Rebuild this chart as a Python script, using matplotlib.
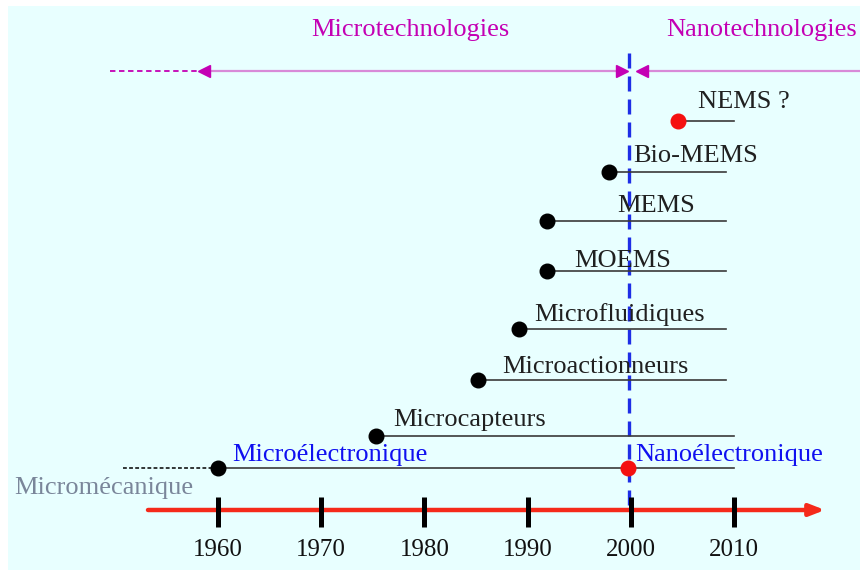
import matplotlib.pyplot as plt
from matplotlib.patches import Rectangle

plt.rcParams['font.family'] = ['Liberation Serif', 'DejaVu Serif']

# Timeline axis years.
axis_years = [1960, 1970, 1980, 1990, 2000, 2010]

# Technologies: name, start year, end year.
techs = ["Microcapteurs", "Microactionneurs", "Microfluidiques",
         "MOEMS", "MEMS", "Bio-MEMS", "NEMS ?"]
tech_start = [1975.3, 1985.2, 1989.2, 1991.9, 1991.9, 1997.9, 2004.6]
tech_end = [2010.0, 2009.2, 2009.2, 2009.2, 2009.2, 2009.2, 2010.0]
tech_red = [False, False, False, False, False, False, True]

# Base row: micromechanics -> microelectronics -> nanoelectronics.
micromeca_start = 1950.8
microelec_start = 1960.0
nanoelec_start = 1999.7
base_end = 2010.0

# Boundary between micro- and nanotechnologies.
era_boundary = 2000.0

# Layout (y in pixels from top, label offsets in pixels).
row_y = [436, 380, 329, 271, 221, 172, 121]
label_dx = [17, 24, 15, 27, 70, 24, 20]
label_y = [420, 367, 315, 261, 206, 156, 102]
base_y = 468
axis_y = 510
era_y = 71

PX_PER_YEAR = 10.32
X0 = 1960 - 218 / PX_PER_YEAR
X1 = X0 + 860 / PX_PER_YEAR


def px(dx):
    # Convert a pixel offset to years.
    return dx / PX_PER_YEAR


fig = plt.figure(figsize=(8.6, 5.7), dpi=100, facecolor="white")
ax = fig.add_axes([0, 0, 1, 1])
ax.set_xlim(X0, X1)
ax.set_ylim(570, 0)
ax.axis("off")

# Light cyan background.
ax.add_patch(Rectangle((8 / 860, 0), 1, 1 - 6 / 570, transform=ax.transAxes,
                       facecolor="#E8FFFF", edgecolor="none", zorder=0))

magenta = "#C400B4"
pale_magenta = "#D88AD8"
blue = "#1E2EE6"
red = "#F51010"
dark = "#3A3A3A"
fs = 19

# Era labels and arrows.
ax.text(X0 + px(410), 30, "Microtechnologies", color=magenta, fontsize=fs,
        ha="center", va="center")
ax.text(X0 + px(762), 30, "Nanotechnologies", color=magenta, fontsize=fs,
        ha="center", va="center")
ax.plot([X0 + px(110), X0 + px(200)], [era_y, era_y], color=magenta,
        lw=1.3, ls=(0, (3, 2)))
ax.plot([X0 + px(205), era_boundary - px(8)], [era_y, era_y],
        color=pale_magenta, lw=1.6)
ax.plot([era_boundary + px(12), X1], [era_y, era_y], color=pale_magenta, lw=1.6)
ax.plot([X0 + px(204)], [era_y], marker="<", color=magenta, ms=9)
ax.plot([era_boundary - px(9)], [era_y], marker=">", color=magenta, ms=9)
ax.plot([era_boundary + px(11)], [era_y], marker="<", color=magenta, ms=9)

# Vertical dashed boundary.
ax.plot([era_boundary - px(1.5)] * 2, [53, axis_y], color=blue, lw=2.4,
        ls=(0, (4.5, 2.4)), zorder=2)

# Technology rows.
for name, s, e, y, dx, ly, is_red in zip(techs, tech_start, tech_end, row_y,
                                          label_dx, label_y, tech_red):
    ax.plot([s, e], [y, y], color=dark, lw=1.2, zorder=3)
    ax.plot([s], [y], marker="o", ms=10.5, color=red if is_red else "black",
            zorder=4)
    ax.text(s + px(dx), ly, name, fontsize=fs, color="#202020",
            ha="left", va="center", zorder=5)

# Base row.
ax.plot([micromeca_start, microelec_start], [base_y, base_y], color="black",
        lw=1.1, ls=(0, (2.5, 1.5)))
ax.plot([microelec_start, base_end], [base_y, base_y], color=dark, lw=1.2,
        zorder=3)
ax.plot([microelec_start], [base_y], marker="o", ms=10.5, color="black",
        zorder=4)
ax.plot([nanoelec_start], [base_y], marker="o", ms=10.5, color=red, zorder=4)
ax.text(microelec_start + px(14), 455, "Microélectronique", fontsize=fs,
        color="#1010F0", ha="left", va="center")
ax.text(nanoelec_start + px(8), 455, "Nanoélectronique", fontsize=fs,
        color="#1010F0", ha="left", va="center")
ax.text(X0 + px(104), 488, "Micromécanique", fontsize=fs, color="#7A869A",
        ha="center", va="center")

# Time axis.
ax.annotate("", xy=(X0 + px(825), axis_y), xytext=(X0 + px(148), axis_y),
            arrowprops=dict(arrowstyle="-|>,head_length=0.9,head_width=0.35",
                            color="#F52A1A", lw=3.2, shrinkA=0, shrinkB=0))
for yr in axis_years:
    ax.plot([yr, yr], [497, 527], color="black", lw=3.6, solid_capstyle="butt",
            zorder=3)
    ax.text(yr, 550, str(yr), fontsize=18, color="#111111", ha="center",
            va="center")

fig.savefig("out.png", dpi=100, facecolor="white")
